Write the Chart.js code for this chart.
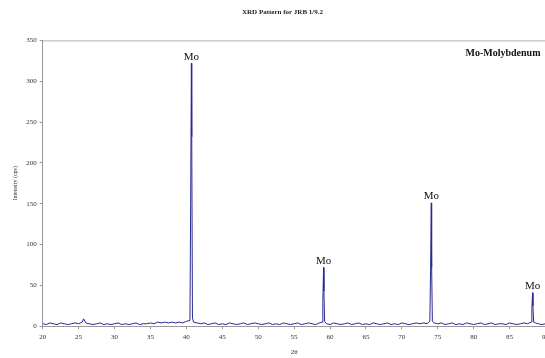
<!DOCTYPE html>
<html>
<head>
<meta charset="utf-8">
<script src="https://cdn.jsdelivr.net/npm/chart.js@4.4.1/dist/chart.umd.min.js"></script>
<style>
  html, body { margin: 0; padding: 0; background: #fff; overflow: hidden; }
  #wrap { width: 553px; height: 358px; }
</style>
</head>
<body>
<div id="wrap"><canvas id="xrd"></canvas></div>
<script>
// 2-theta scan (degrees) and measured counts
const angles = [
  20, 20.5, 21, 21.5, 22, 22.5, 23, 23.5, 24, 24.5, 25, 25.5, 25.7, 26, 26.5, 27, 27.5, 28, 28.5, 29, 29.5,
  30, 30.5, 31, 31.5, 32, 32.5, 33, 33.5, 34, 34.5, 35, 35.5, 36, 36.5, 37, 37.5, 38, 38.5, 39, 39.5,
  40, 40.5, 40.6, 40.7, 40.75, 40.85, 41.0, 41.5, 42, 42.5, 43, 43.5, 44, 44.5,
  45, 45.5, 46, 46.5, 47, 47.5, 48, 48.5, 49, 49.5, 50, 50.5, 51, 51.5, 52, 52.5, 53, 53.5, 54, 54.5,
  55, 55.5, 56, 56.5, 57, 57.5, 58, 58.5, 58.9, 59.0, 59.1, 59.15, 59.25, 59.5, 60, 60.5, 61, 61.5, 62, 62.5,
  63, 63.5, 64, 64.5, 65, 65.5, 66, 66.5, 67, 67.5, 68, 68.5, 69, 69.5, 70, 70.5, 71, 71.5, 72, 72.5,
  73, 73.5, 73.9, 74.0, 74.1, 74.15, 74.25, 74.5, 75, 75.5, 76, 76.5, 77, 77.5, 78, 78.5, 79, 79.5,
  80, 80.5, 81, 81.5, 82, 82.5, 83, 83.5, 84, 84.5, 85, 85.5, 86, 86.5, 87, 87.5, 88.0, 88.1, 88.2, 88.25, 88.35, 88.6, 89, 89.5, 90
];
const counts = [
  3, 2, 4, 3, 2, 4, 3, 2, 3, 4, 3, 5, 9, 4, 3, 2, 3, 4, 2, 3, 2,
  3, 4, 2, 3, 2, 3, 4, 2, 3, 3, 4, 3, 5, 4, 5, 4, 5, 4, 5, 4,
  6, 7, 150, 322, 232, 10, 5, 4, 3, 4, 2, 3, 4, 2,
  3, 2, 4, 3, 2, 3, 4, 2, 3, 4, 3, 2, 3, 4, 2, 3, 2, 4, 3, 2,
  3, 4, 2, 3, 4, 3, 2, 4, 5, 30, 72, 43, 6, 3, 2, 4, 3, 2, 3, 4,
  2, 3, 4, 2, 3, 2, 4, 3, 2, 3, 4, 2, 3, 2, 4, 3, 2, 3, 4, 3,
  4, 3, 6, 70, 151, 72, 6, 4, 3, 4, 2, 3, 4, 2, 3, 2, 4, 3,
  2, 3, 4, 2, 3, 4, 2, 3, 3, 2, 4, 3, 2, 3, 4, 3, 5, 20, 41, 25, 5, 4, 3, 2, 3
];

// reflections marked on the pattern
const peakAngles = [40.7, 59.1, 74.1, 88.2];
const peakNames = ["Mo", "Mo", "Mo", "Mo"];

const xTicks = { min: 20, max: 90, step: 5 };
const yTicks = { min: 0, max: 350, step: 50 };

const points = angles.map((a, i) => ({ x: a, y: counts[i] }));

const serif = "'Liberation Serif', 'Times New Roman', serif";

// peak labels, phase note and frame line on top of the plot
const annotate = {
  id: "annotate",
  afterDatasetsDraw(chart) {
    const { ctx, chartArea, scales } = chart;
    ctx.save();
    ctx.strokeStyle = "#b0b0b0";
    ctx.lineWidth = 1;
    ctx.beginPath();
    ctx.moveTo(chartArea.left, chartArea.top + 0.5);
    ctx.lineTo(chartArea.right, chartArea.top + 0.5);
    ctx.stroke();

    ctx.fillStyle = "#111";
    ctx.font = "11px " + serif;
    ctx.textAlign = "center";
    ctx.textBaseline = "bottom";
    peakAngles.forEach((a, i) => {
      const top = counts[angles.indexOf(a)];
      ctx.fillText(peakNames[i], scales.x.getPixelForValue(a), scales.y.getPixelForValue(top) - 1);
    });

    ctx.font = "bold 10px " + serif;
    ctx.textAlign = "right";
    ctx.textBaseline = "alphabetic";
    ctx.fillText("Mo-Molybdenum", chartArea.right - 5, chartArea.top + 16);
    ctx.restore();
  }
};

new Chart(document.getElementById("xrd"), {
  type: "line",
  data: {
    datasets: [{
      data: points,
      borderColor: "#2a2a95",
      borderWidth: 1,
      pointRadius: 0,
      tension: 0
    }]
  },
  options: {
    responsive: true,
    maintainAspectRatio: false,
    animation: false,
    layout: { padding: { left: 12, right: 0, top: 4, bottom: 0 } },
    plugins: {
      legend: { display: false },
      tooltip: { enabled: false },
      title: {
        display: true,
        text: "XRD Pattern for JRB 1/9.2",
        color: "#222",
        font: { family: serif, size: 7, weight: "bold" },
        padding: { top: 4, bottom: 24 }
      }
    },
    scales: {
      x: {
        type: "linear",
        min: xTicks.min,
        max: xTicks.max,
        border: { color: "#999" },
        grid: { drawOnChartArea: false, drawTicks: true, tickLength: 3, color: "#999" },
        ticks: { stepSize: xTicks.step, color: "#333", font: { family: serif, size: 7 }, maxRotation: 0, padding: 4 },
        title: { display: true, text: "2θ", color: "#333", font: { family: serif, size: 7 }, padding: { top: 2, bottom: 2 } }
      },
      y: {
        min: yTicks.min,
        max: yTicks.max,
        border: { color: "#999" },
        grid: { drawOnChartArea: false, drawTicks: true, tickLength: 3, color: "#999" },
        ticks: { stepSize: yTicks.step, color: "#333", font: { family: serif, size: 7 }, padding: 3 },
        title: { display: true, text: "Intensity (cps)", color: "#333", font: { family: serif, size: 6 }, padding: { top: 0, bottom: 4 } }
      }
    }
  },
  plugins: [annotate]
});
</script>
</body>
</html>
